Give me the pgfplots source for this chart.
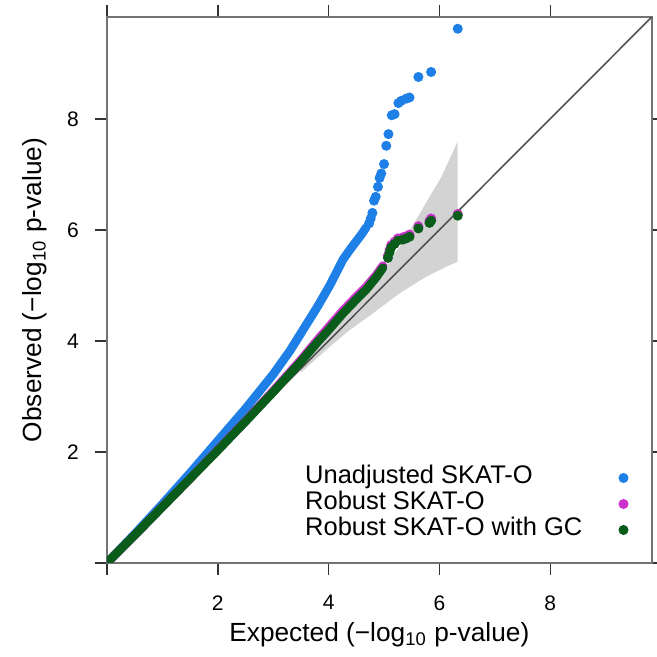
\documentclass[border=0pt]{standalone}
\usepackage{fontspec}
\setmainfont{Liberation Sans}
\usepackage{pgfplots}
\pgfplotsset{compat=1.18}
\definecolor{cblue}{RGB}{30,128,230}
\definecolor{cmag}{RGB}{204,51,204}
\definecolor{cgreen}{RGB}{10,92,26}
\definecolor{band}{RGB}{211,211,211}
\definecolor{diag}{RGB}{80,80,80}
\begin{document}
\begin{tikzpicture}
\begin{axis}[
 scale only axis, width=207.4pt, height=207.8pt,
 xmin=0, xmax=9.83, ymin=0, ymax=9.84,
 xtick={0,2,4,6,8}, ytick={0,2,4,6,8},
 xticklabels={,2,4,6,8}, yticklabels={,2,4,6,8},
 tick align=outside, major tick length=4.6pt,
 tick style={black!80, line width=0.6pt},
 axis line style={black!55, line width=0.8pt},
 /pgf/number format/assume math mode=true,
 ticklabel style={font=\fontsize{8}{9}\selectfont},
 xticklabel style={anchor=north}, xticklabel shift=4.2pt,
 yticklabel style={anchor=east}, yticklabel shift=2.6pt,
 xlabel={Expected (−log\textsubscript{10} p-value)},
 ylabel={Observed (−log\textsubscript{10} p-value)},
 label style={font=\fontsize{10}{12}\selectfont},
 xlabel style={at={(axis description cs:0.5,-0.132)}, anchor=center},
 ylabel style={at={(axis description cs:-0.132,0.5)}, anchor=center},
 legend style={at={(axis description cs:0.363,0.0356)}, anchor=south west, draw=none, fill=none,
   font=\fontsize{9.7}{11}\selectfont, row sep=0pt, column sep=14pt, inner sep=0pt,
   nodes={inner sep=0pt, text height=7.2pt, text depth=2.7pt}},
 legend cell align=left,
 legend plot pos=right,
]
% confidence band
\addplot[fill=band, draw=none, forget plot] coordinates {
 (3.5,3.55) (4.0,4.1) (4.5,4.68) (5.0,5.3) (5.3,5.72) (5.6,6.22) (5.85,6.65) (6.03,6.95) (6.33,7.6)
 (6.33,5.43) (6.12,5.34) (5.76,5.16) (5.28,4.86) (4.8,4.5) (4.38,4.2) (4.0,3.88) (3.5,3.43)
} -- cycle;
% diagonal
\addplot[diag, line width=0.6pt, forget plot] coordinates {(0,0) (9.83,9.84)};
% unadjusted: dense part
\addplot[cblue, line width=3.3pt, line cap=round, line join=round, forget plot] coordinates {
 (0,0) (0.5,0.52) (1,1.06) (1.5,1.62) (2,2.2) (2.5,2.78) (3,3.4) (3.3,3.82) (3.6,4.3)
 (3.8,4.62) (4.02,5.0) (4.26,5.47) (4.38,5.64) (4.5,5.8) (4.6,5.93) (4.68,6.05)
};
\addplot[cblue, only marks, mark=*, mark size=1.7pt] coordinates {
 (4.73,6.12) (4.76,6.21) (4.79,6.31) (4.82,6.53) (4.85,6.60) (4.89,6.78) (4.92,6.94)
 (4.95,7.02) (5.0,7.19) (5.04,7.52) (5.08,7.73) (5.14,8.07) (5.19,8.09) (5.26,8.29)
 (5.31,8.33) (5.40,8.37) (5.46,8.39) (5.62,8.76) (5.85,8.85) (6.33,9.63)
};
\addlegendentry{Unadjusted SKAT-O}
% robust: dense part
\addplot[cmag, line width=3.3pt, line cap=round, line join=round, forget plot] coordinates {
 (0,0) (0.5,0.5) (1,1.01) (1.5,1.52) (2,2.04) (2.5,2.56) (3,3.1) (3.5,3.66) (3.8,4.02)
 (4.0,4.25) (4.26,4.55) (4.5,4.8) (4.68,4.98) (4.86,5.19) (4.98,5.36)
};
\addplot[cmag, only marks, mark=*, mark size=1.7pt] coordinates {
 (5.07,5.54) (5.10,5.64) (5.13,5.73) (5.19,5.79) (5.25,5.85) (5.34,5.87) (5.40,5.89)
 (5.46,5.92) (5.62,6.07) (5.82,6.17) (5.85,6.21) (6.33,6.29)
};
\addlegendentry{Robust SKAT-O}
% robust with GC: dense part
\addplot[cgreen, line width=3.3pt, line cap=round, line join=round, forget plot] coordinates {
 (0,0) (0.5,0.5) (1,1.01) (1.5,1.52) (2,2.03) (2.5,2.55) (3,3.08) (3.5,3.63) (3.8,3.98)
 (4.0,4.2) (4.26,4.5) (4.5,4.75) (4.68,4.93) (4.86,5.15) (4.98,5.32)
};
\addplot[cgreen, only marks, mark=*, mark size=1.7pt] coordinates {
 (5.07,5.50) (5.10,5.60) (5.13,5.69) (5.19,5.75) (5.25,5.81) (5.34,5.83) (5.40,5.85)
 (5.46,5.88) (5.62,6.03) (5.82,6.13) (5.85,6.17) (6.33,6.26)
};
\addlegendentry{Robust SKAT-O with GC}
\end{axis}
\pgfresetboundingbox
\path (-40.7pt,-35.8pt) rectangle (209.3pt,214.3pt);
\end{tikzpicture}
\end{document}
